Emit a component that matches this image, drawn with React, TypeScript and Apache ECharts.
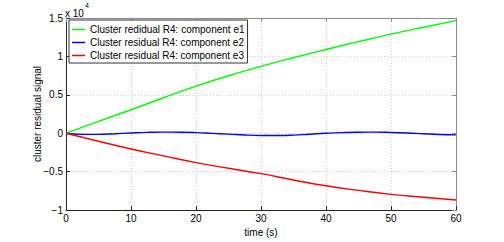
import React, { useEffect, useRef } from "react";
import * as echarts from "echarts";

const FONT = "'Liberation Sans', Arial, Helvetica, sans-serif";

const seriesNames = [
  "Cluster redidual R4: component e1",
  "Cluster residual R4: component e2",
  "Cluster residual R4: component e3",
];

const timeCoarse = [0, 5, 10, 15, 20, 25, 30, 35, 40, 45, 50, 55, 60];
const greenValues = [0, 1550, 3050, 4620, 6120, 7480, 8700, 9830, 10900, 11920, 12900, 13800, 14660];
const redValues = [0, -1050, -2050, -2950, -3830, -4570, -5270, -6090, -6850, -7450, -7960, -8340, -8700];

const timeFine = [0, 2.5, 5, 7.5, 10, 12.5, 15, 17.5, 20, 22.5, 25, 27.5, 30, 32.5, 35, 37.5, 40, 42.5, 45, 47.5, 50, 52.5, 55, 57.5, 60];
const blueValues = [0, -150, -150, -70, 30, 110, 140, 130, 80, -20, -120, -230, -290, -300, -250, -130, -10, 80, 130, 140, 100, 30, -70, -160, -220];

const xTicks = { min: 0, max: 60, interval: 10 };
const yTicks = { min: -10000, max: 15000, interval: 5000 };

const colors = ["#00ff00", "#0000ff", "#ff0000"];

function fmtY(v: number): string {
  if (v === 0) return "0";
  const s = String(Math.abs(v / 10000));
  return v < 0 ? "\u2212" + s : s;
}

export default function App() {
  const ref = useRef<HTMLDivElement>(null);
  useEffect(() => {
    if (!ref.current) return;
    const chart = echarts.init(ref.current, undefined, { renderer: "svg" });
    const pair = (t: number[], v: number[]) => t.map((x, i) => [x, v[i]]);
    const grid = { left: 66, top: 18, width: 390, height: 196 };
    const labelStyle = { color: "#000", fontFamily: FONT, fontSize: 10 };
    chart.setOption({
      animation: false,
      backgroundColor: "#fff",
      grid,
      xAxis: [
        {
          type: "value",
          ...xTicks,
          position: "bottom",
          axisLine: { show: true, onZero: false, lineStyle: { color: "#262626", width: 1 } },
          axisTick: { show: true, inside: true, length: 4, lineStyle: { color: "#262626" } },
          axisLabel: { ...labelStyle, margin: 3 },
          splitLine: { show: true, lineStyle: { color: "#cfcfcf", type: [1, 2], width: 1 } },
          name: "time (s)",
          nameLocation: "middle",
          nameGap: 17,
          nameMoveOverlap: false,
          nameTextStyle: { ...labelStyle },
        },
        {
          type: "value",
          ...xTicks,
          position: "top",
          axisLine: { show: true, onZero: false, lineStyle: { color: "#8c8c8c", width: 1 } },
          axisTick: { show: true, inside: true, length: 4, lineStyle: { color: "#8c8c8c" } },
          axisLabel: { show: false },
          splitLine: { show: false },
        },
      ],
      yAxis: [
        {
          type: "value",
          ...yTicks,
          position: "left",
          axisLine: { show: true, onZero: false, lineStyle: { color: "#262626", width: 1 } },
          axisTick: { show: true, inside: true, length: 4, lineStyle: { color: "#262626" } },
          axisLabel: { ...labelStyle, margin: 3, formatter: fmtY },
          splitLine: { show: true, lineStyle: { color: "#cfcfcf", type: [1, 2], width: 1 } },
          name: "cluster residual signal",
          nameLocation: "middle",
          nameGap: 24,
          nameMoveOverlap: false,
          nameTextStyle: { ...labelStyle },
        },
        {
          type: "value",
          ...yTicks,
          position: "right",
          axisLine: { show: true, onZero: false, lineStyle: { color: "#8c8c8c", width: 1 } },
          axisTick: { show: true, inside: true, length: 4, lineStyle: { color: "#8c8c8c" } },
          axisLabel: { show: false },
          splitLine: { show: false },
        },
      ],
      legend: {
        orient: "vertical",
        left: 69,
        top: 20,
        padding: [3, 3, 1, 3],
        itemGap: 0,
        itemWidth: 13,
        itemHeight: 1.5,
        icon: "rect",
        backgroundColor: "#fff",
        borderColor: "#333",
        borderWidth: 1,
        borderRadius: 0,
        textStyle: { ...labelStyle, lineHeight: 13, height: 13 },
        data: seriesNames.map((n) => ({ name: n, icon: "rect" })),
      },
      graphic: [
        {
          type: "text",
          left: 65,
          top: 8,
          style: { text: "x 10", fill: "#000", font: `10px ${FONT}` },
        },
        {
          type: "text",
          left: 85,
          top: 2,
          style: { text: "4", fill: "#000", font: `7px ${FONT}` },
        },
      ],
      series: [
        {
          name: seriesNames[0],
          type: "line",
          data: pair(timeCoarse, greenValues),
          smooth: 0.5,
          symbol: "none",
          lineStyle: { color: colors[0], width: 1.4 },
          itemStyle: { color: colors[0] },
        },
        {
          name: seriesNames[1],
          type: "line",
          data: pair(timeFine, blueValues),
          smooth: 0.5,
          symbol: "none",
          lineStyle: { color: colors[1], width: 1.4 },
          itemStyle: { color: colors[1] },
        },
        {
          name: seriesNames[2],
          type: "line",
          data: pair(timeCoarse, redValues),
          smooth: 0.5,
          symbol: "none",
          lineStyle: { color: colors[2], width: 1.4 },
          itemStyle: { color: colors[2] },
        },
      ],
    });
    return () => chart.dispose();
  }, []);
  return (
    <div
      ref={ref}
      style={{ position: "absolute", left: 0, top: 0, width: 504, height: 242, background: "#fff" }}
    />
  );
}
